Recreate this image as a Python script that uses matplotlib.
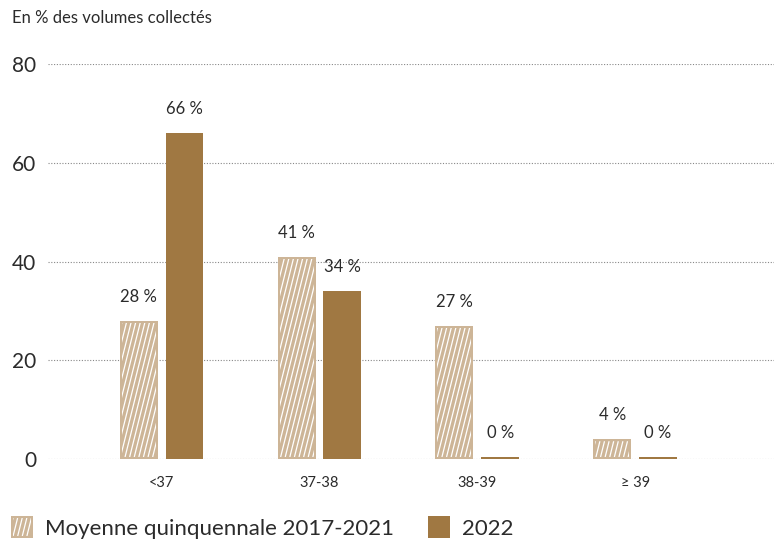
import matplotlib.pyplot as plt
from matplotlib.collections import LineCollection
from matplotlib.patches import Rectangle
from matplotlib.transforms import IdentityTransform
import numpy as np

categories = ['<37', '37-38', '38-39', '≥ 39']
moyenne = [28, 41, 27, 4]
annee_2022 = [66, 34, 0, 0]
legend_labels = ['Moyenne quinquennale 2017-2021', '2022']

light = '#cdb597'
dark = '#a07842'
text_col = '#2b2b2b'

plt.rcParams['font.family'] = ['Lato', 'DejaVu Sans']

fig = plt.figure(figsize=(7.74, 5.43), dpi=100)
H = 543


def stripes(fig, x0, y0, x1, y1, inset=2, step=4.6, slope=4.0):
    # steep white stripes inside a box given in pixels (display coords)
    bx0, by0, bx1, by1 = x0 + inset, y0 + inset, x1 - inset, y1 - inset
    if by1 - by0 < 3:
        return
    run = (by1 - by0) / slope
    segs = []
    o = bx0 - run
    while o < bx1:
        segs.append([(o, by0), (o + run, by1)])
        o += step
    lc = LineCollection(segs, colors='white', linewidths=0.9, transform=IdentityTransform(), zorder=4)
    clip = Rectangle((bx0, by0), bx1 - bx0, by1 - by0, transform=IdentityTransform())
    lc.set_clip_path(clip)
    fig.add_artist(lc)


ax = fig.add_axes([48 / 774, 84 / 543, 1 - 48 / 774, 395 / 543])

x = np.arange(len(categories))
w = 0.24
off = 0.145

ax.set_ylim(0, 80)
ax.set_xlim(-0.72, 3.88)

ax.bar(x - off, moyenne, w, color=light, linewidth=0, zorder=3)
ax.bar(x + off, [max(v, 0.5) for v in annee_2022], w, color=dark, linewidth=0, zorder=3)

for xi, v in zip(x, moyenne):
    (px0, py0), (px1, py1) = ax.transData.transform([(xi - off - w / 2, 0), (xi - off + w / 2, v)])
    stripes(fig, px0, py0, px1, py1)

for xi, v in zip(x, moyenne):
    ax.text(xi - off, v + 3.2, f'{v} %', ha='center', va='bottom', fontsize=12, color=text_col)
for xi, v in zip(x, annee_2022):
    ax.text(xi + off, max(v, 0.5) + 3.2, f'{v} %', ha='center', va='bottom', fontsize=12, color=text_col)

ax.set_yticks([0, 20, 40, 60, 80])
ax.set_xticks(x)
ax.set_xticklabels(categories)
ax.tick_params(axis='y', length=0, pad=8.5, labelsize=15, labelcolor=text_col)
ax.tick_params(axis='x', length=0, pad=12, labelsize=10.5, labelcolor=text_col)
ax.grid(axis='y', linestyle=(0, (1, 1.5)), color='#888888', linewidth=0.8, zorder=0)
for s in ax.spines.values():
    s.set_visible(False)

fig.text(12 / 774, (H - 18) / H, 'En % des volumes collectés', ha='left', va='center', fontsize=12, color=text_col)

# legend drawn by hand so the hatched square matches the bars
fig.add_artist(Rectangle((11, H - 538), 22, 22, transform=IdentityTransform(), color=light, linewidth=0))
stripes(fig, 11, H - 538, 33, H - 516)
fig.text(45 / 774, (H - 529) / H, legend_labels[0], ha='left', va='center', fontsize=16, color=text_col)
fig.add_artist(Rectangle((428, H - 538), 22, 22, transform=IdentityTransform(), color=dark, linewidth=0))
fig.text(462 / 774, (H - 529) / H, legend_labels[1], ha='left', va='center', fontsize=16, color=text_col)

fig.savefig('out.png', dpi=100)
